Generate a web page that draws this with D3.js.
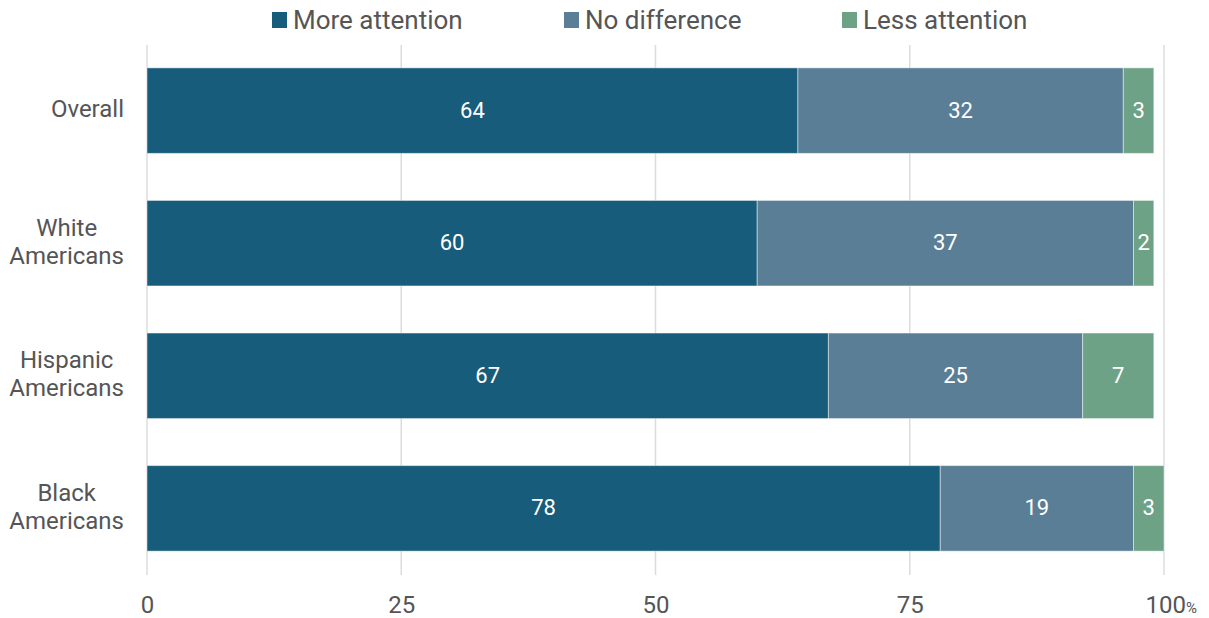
<!DOCTYPE html>
<html>
<head>
<meta charset="utf-8">
<script src="https://cdn.jsdelivr.net/npm/d3@7"></script>
<style>
  html, body { margin: 0; padding: 0; background: #fff; }
  svg { display: block; font-family: Roboto, "Noto Sans", sans-serif; }
</style>
</head>
<body>
<svg id="chart" width="1209" height="618"></svg>
<script>
// Survey groups and stacked shares (percent)
const categories = [["Overall"], ["White", "Americans"], ["Hispanic", "Americans"], ["Black", "Americans"]];
const seriesNames = ["More attention", "No difference", "Less attention"];
const moreAttention = [64, 60, 67, 78];
const noDifference = [32, 37, 25, 19];
const lessAttention = [3, 2, 7, 3];
const tickValues = [0, 25, 50, 75, 100];
const colors = ["#185c7b", "#5a7e95", "#6ea286"];

const svg = d3.select("#chart");
const keys = categories.map(c => c.join(" "));

const rows = keys.map((k, i) => ({
  key: k,
  "More attention": moreAttention[i],
  "No difference": noDifference[i],
  "Less attention": lessAttention[i]
}));

const x = d3.scaleLinear().domain([0, 100]).range([147, 1164]);
const y = d3.scaleBand().domain(keys).range([44, 575]).paddingInner(0.355).paddingOuter(0.18);
const color = d3.scaleOrdinal().domain(seriesNames).range(colors);

// Vertical gridlines
svg.append("g").selectAll("line").data(tickValues).join("line")
  .attr("x1", d => x(d)).attr("x2", d => x(d))
  .attr("y1", 45).attr("y2", 575)
  .attr("stroke", "#dcdcdc").attr("stroke-width", 1.5);

// Stacked bars
const stacked = d3.stack().keys(seriesNames)(rows);
const layers = svg.append("g").selectAll("g").data(stacked).join("g")
  .attr("fill", d => color(d.key));

layers.selectAll("rect").data(d => d).join("rect")
  .attr("x", d => x(d[0]))
  .attr("y", d => y(d.data.key))
  .attr("width", d => x(d[1]) - x(d[0]))
  .attr("height", y.bandwidth())
  .attr("stroke", "rgba(255,255,255,0.45)")
  .attr("stroke-width", 1);

// Value labels inside segments
layers.selectAll("text").data(d => d).join("text")
  .attr("x", d => (x(d[0]) + x(d[1])) / 2)
  .attr("y", d => y(d.data.key) + y.bandwidth() / 2)
  .attr("dy", "0.32em")
  .attr("text-anchor", "middle")
  .attr("fill", "#fff")
  .attr("font-size", 22)
  .text(d => d[1] - d[0]);

// Category labels: block right-aligned, lines centred within the block
const catG = svg.append("g");
categories.forEach((lines, i) => {
  const cy = y(keys[i]) + y.bandwidth() / 2 - 2;
  const lh = 28;
  const t = catG.append("text")
    .attr("font-size", 24)
    .attr("fill", "#555")
    .attr("text-anchor", "middle");
  lines.forEach((ln, j) => {
    t.append("tspan")
      .attr("x", 0)
      .attr("y", cy + (j - (lines.length - 1) / 2) * lh)
      .attr("dy", "0.35em")
      .text(ln);
  });
  const w = t.node().getBBox().width;
  t.selectAll("tspan").attr("x", 124 - w / 2);
});

// X axis tick labels
const xAxis = d3.axisBottom(x).tickValues(tickValues).tickSize(0).tickPadding(0)
  .tickFormat(d => d);
const ax = svg.append("g").attr("transform", "translate(0,596)").call(xAxis);
ax.select(".domain").remove();
ax.selectAll("text")
  .attr("font-size", 24)
  .attr("fill", "#555")
  .attr("font-family", "Roboto, sans-serif")
  .attr("dy", "0.71em");
ax.selectAll(".tick").filter(d => d === 100).select("text")
  .append("tspan").attr("font-size", 15).text("%");
ax.selectAll(".tick").filter(d => d === 100).select("text")
  .attr("text-anchor", "start").attr("x", -19);

// Legend
const legendX = [272, 564, 842];
const leg = svg.append("g");
seriesNames.forEach((s, i) => {
  leg.append("rect").attr("x", legendX[i]).attr("y", 12).attr("width", 15).attr("height", 16)
    .attr("fill", colors[i]);
  leg.append("text").attr("x", legendX[i] + 21).attr("y", 29)
    .attr("font-size", 26).attr("fill", "#555").text(s);
});
</script>
</body>
</html>
